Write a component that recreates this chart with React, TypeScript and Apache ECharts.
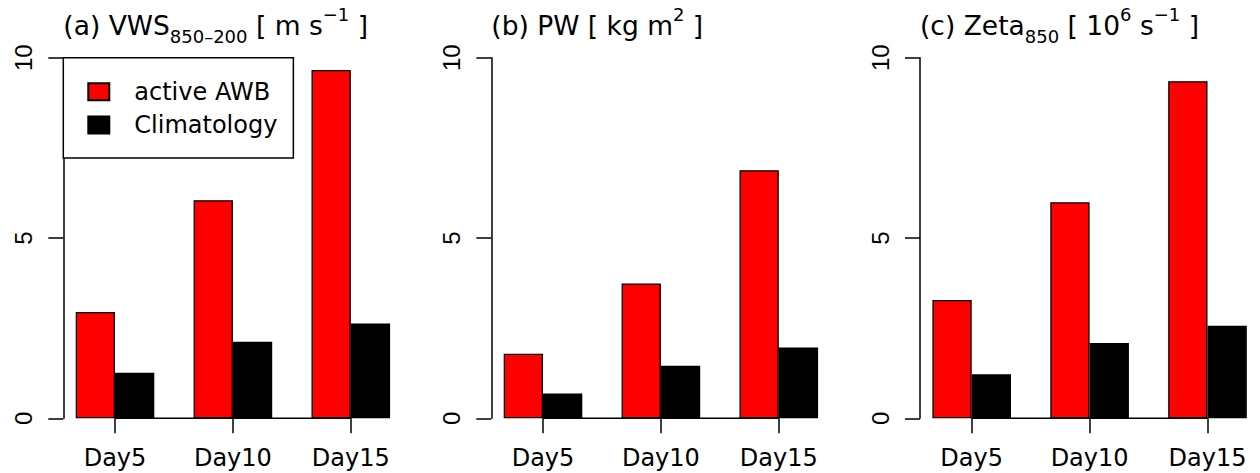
import React, { useEffect, useRef } from "react";
import * as echarts from "echarts";

// ---- data ----
const categories = ["Day5", "Day10", "Day15"];
const seriesNames = ["active AWB", "Climatology"];
const vwsActive = [2.95, 6.05, 9.66];
const vwsClim = [1.26, 2.12, 2.63];
const pwActive = [1.79, 3.74, 6.88];
const pwClim = [0.69, 1.46, 1.96];
const zetaActive = [3.28, 5.99, 9.35];
const zetaClim = [1.22, 2.09, 2.57];
const yMin = 0;
const yMax = 10;
const yInterval = 5;

const titleTexts = [
  "{m|(a) VWS}{sub|850–200}{m| [ m s}{sup|−1}{m| ]}",
  "{m|(b) PW [ kg m}{sup|2}{m| ]}",
  "{m|(c) Zeta}{sub|850}{m| [ 10}{sup|6}{m| s}{sup|−1}{m| ]}",
];

const FONT = "DejaVu Sans";

export default function App() {
  const ref = useRef<HTMLDivElement>(null);
  useEffect(() => {
    if (!ref.current) return;
    const chart = echarts.init(ref.current, null, { renderer: "svg" });

    const panels = [
      { active: vwsActive, clim: vwsClim, axisX: 63.3 },
      { active: pwActive, clim: pwClim, axisX: 491.3 },
      { active: zetaActive, clim: zetaClim, axisX: 920 },
    ];
    const unit = 39.3;
    const shift = 0.5 * unit - 12.4;

    const grids: any[] = [];
    const xAxes: any[] = [];
    const yAxes: any[] = [];
    const series: any[] = [];
    const titles: any[] = [];

    const rich = {
      m: { fontSize: 26.5, fontFamily: FONT, color: "#000", lineHeight: 40, verticalAlign: "middle", fontWeight: "normal" },
      sub: { fontSize: 18, fontFamily: FONT, color: "#000", lineHeight: 24, verticalAlign: "bottom", fontWeight: "normal" },
      sup: { fontSize: 18, fontFamily: FONT, color: "#000", lineHeight: 13.4, verticalAlign: "top", fontWeight: "normal" },
    };

    panels.forEach((p, i) => {
      grids.push({
        left: p.axisX - shift,
        top: 57.7,
        width: 9 * unit,
        height: 360.6,
        containLabel: false,
        outerBoundsMode: "none",
      });
      xAxes.push({
        type: "category",
        gridIndex: i,
        data: categories,
        boundaryGap: true,
        axisLine: { show: false },
        axisTick: { show: true, alignWithLabel: true, length: 15, inside: false, lineStyle: { color: "#000", width: 1.5 } },
        axisLabel: { show: true, interval: 0, margin: 28, fontSize: 24, fontFamily: FONT, color: "#000", verticalAlign: "top" },
        splitLine: { show: false },
      });
      yAxes.push({
        type: "value",
        gridIndex: i,
        min: yMin,
        max: yMax,
        interval: yInterval,
        offset: -shift,
        axisLine: { show: true, lineStyle: { color: "#000", width: 1.5 } },
        axisTick: { show: true, length: 15, inside: false, lineStyle: { color: "#000", width: 1.5 } },
        axisLabel: {
          show: true,
          rotate: 90,
          margin: 39.6,
          fontSize: 24,
          fontFamily: "Liberation Sans",
          color: "#000",
          align: "center",
          verticalAlign: "middle",
        },
        splitLine: { show: false },
      });
      series.push({
        type: "line",
        name: "baseline",
        xAxisIndex: i,
        yAxisIndex: i,
        data: categories.map(() => 0),
        symbol: "none",
        silent: true,
        lineStyle: { color: "#000", width: 1.5 },
        z: 1,
      });
      series.push({
        type: "bar",
        name: seriesNames[0],
        xAxisIndex: i,
        yAxisIndex: i,
        data: p.active,
        barGap: "0%",
        barCategoryGap: "33.333%",
        itemStyle: { color: "#FF0000", borderColor: "#000", borderWidth: 1.3 },
        z: 2,
      });
      series.push({
        type: "bar",
        name: seriesNames[1],
        xAxisIndex: i,
        yAxisIndex: i,
        data: p.clim,
        barGap: "0%",
        barCategoryGap: "33.333%",
        itemStyle: { color: "#000000", borderColor: "#000", borderWidth: 1.3 },
        z: 2,
      });
      titles.push({
        text: titleTexts[i],
        left: p.axisX,
        top: 5.7,
        padding: 0,
        textStyle: { rich, fontWeight: "normal", fontFamily: FONT },
      });
    });

    chart.setOption({
      animation: false,
      backgroundColor: "#fff",
      title: titles,
      legend: {
        data: seriesNames,
        orient: "vertical",
        left: 63.3,
        top: 57.7,
        padding: [21, 16, 20, 24],
        itemGap: 7.3,
        itemWidth: 21,
        itemHeight: 17,
        icon: "rect",
        borderColor: "#000",
        borderWidth: 1.5,
        backgroundColor: "#fff",
        selectedMode: false,
        textStyle: { fontSize: 24, fontFamily: FONT, color: "#000", lineHeight: 26, padding: [0, 0, 0, 20] },
      },
      grid: grids,
      xAxis: xAxes,
      yAxis: yAxes,
      series,
    });

    return () => chart.dispose();
  }, []);

  return (
    <div
      ref={ref}
      style={{ position: "fixed", left: 0, top: 0, width: 1260, height: 473, background: "#fff" }}
    />
  );
}
